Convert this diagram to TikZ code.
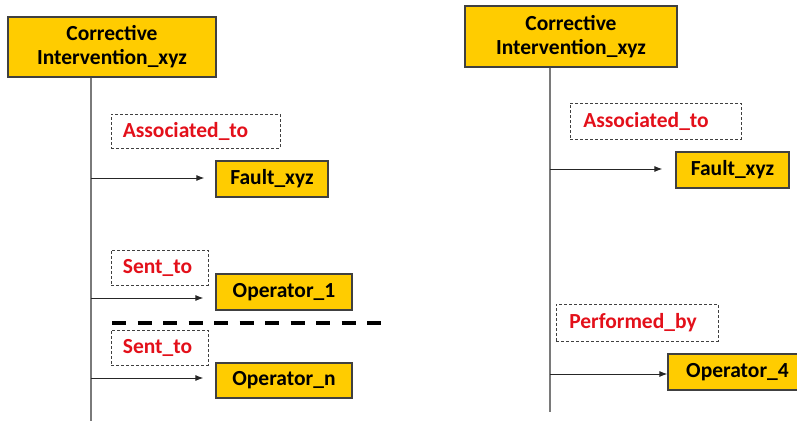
\documentclass[tikz,border=0pt]{standalone}
\usepackage{fontspec}
\setmainfont{Carlito}
\usetikzlibrary{arrows.meta}
\definecolor{boxyellow}{HTML}{FFCC00}
\definecolor{boxborder}{HTML}{404040}
\definecolor{relred}{HTML}{E3101A}
\definecolor{linegray}{HTML}{7A7A7A}
\tikzset{
  concept/.style={draw=boxborder, line width=1.2pt, fill=boxyellow, inner sep=0pt,
    font=\bfseries\fontsize{21.5}{24}\selectfont, align=center, text=black},
  relbox/.style={draw=boxborder, line width=0.9pt, dash pattern=on 3pt off 2pt, inner sep=0pt,
    font=\bfseries\fontsize{21.5}{24}\selectfont, text=relred},
  timeline/.style={draw=linegray, line width=1.6pt},
  link/.style={draw=black!85, line width=1pt, -{Latex[length=8pt,width=6pt]}},
  sep/.style={draw=black, line width=4pt, dash pattern=on 14pt off 11.5pt}
}
\begin{document}
\begin{tikzpicture}[x=1pt,y=-1pt]
\useasboundingbox (0,0) rectangle (797,420);
% left panel
\node[concept, minimum width=208pt, minimum height=60pt] (Lci) at (112,47) {Corrective\\Intervention\_xyz};
\node[relbox, minimum width=169pt, minimum height=34pt] (Lassoc) at (195.5,131) {\hspace*{-20pt}Associated\_to};
\node[concept, minimum width=112pt, minimum height=36pt] (Lfault) at (272,179) {Fault\_xyz};
\node[relbox, minimum width=97pt, minimum height=35pt] (Lsent1) at (159.5,267.5) {\hspace*{-4pt}Sent\_to};
\node[concept, minimum width=136pt, minimum height=36pt] (Lop1) at (284,292) {Operator\_1};
\node[relbox, minimum width=97pt, minimum height=35pt] (Lsent2) at (159.5,347.5) {\hspace*{-4pt}Sent\_to};
\node[concept, minimum width=136pt, minimum height=35pt] (Lopn) at (284,380.5) {Operator\_n};
\coordinate (Lbot) at (91,421);
\coordinate (La1) at (91,178);
\coordinate (La2) at (91,298);
\coordinate (La3) at (91,378);
\coordinate (Sa) at (112,323);
\coordinate (Sb) at (381,323);
\draw[timeline] (Lci.south -| Lbot) -- (Lbot);
\draw[link] (La1) -- ([xshift=-11pt]La1 -| Lfault.west);
\draw[link] (La2) -- ([xshift=-12pt]La2 -| Lop1.west);
\draw[link] (La3) -- ([xshift=-12pt]La3 -| Lopn.west);
\draw[sep] (Sa) -- (Sb);
% right panel
\node[concept, minimum width=212pt, minimum height=61pt] (Rci) at (571,36.5) {Corrective\\Intervention\_xyz};
\node[relbox, minimum width=171pt, minimum height=36pt] (Rassoc) at (655.5,121) {\hspace*{-19pt}Associated\_to};
\node[concept, minimum width=113pt, minimum height=36pt] (Rfault) at (732.5,170) {Fault\_xyz};
\node[relbox, minimum width=162pt, minimum height=37pt] (Rperf) at (637,322.5) {\hspace*{-8pt}Performed\_by};
\node[concept, minimum width=134pt, minimum height=36pt] (Rop4) at (735,372) {\hspace*{5pt}Operator\_4};
\coordinate (Rbot) at (550,412);
\coordinate (Ra1) at (550,169);
\coordinate (Ra2) at (550,374);
\draw[timeline] (Rci.south -| Rbot) -- (Rbot);
\draw[link] (Ra1) -- ([xshift=-13pt]Ra1 -| Rfault.west);
\draw[link] (Ra2) -- (Ra2 -| Rop4.west);
\end{tikzpicture}
\end{document}
